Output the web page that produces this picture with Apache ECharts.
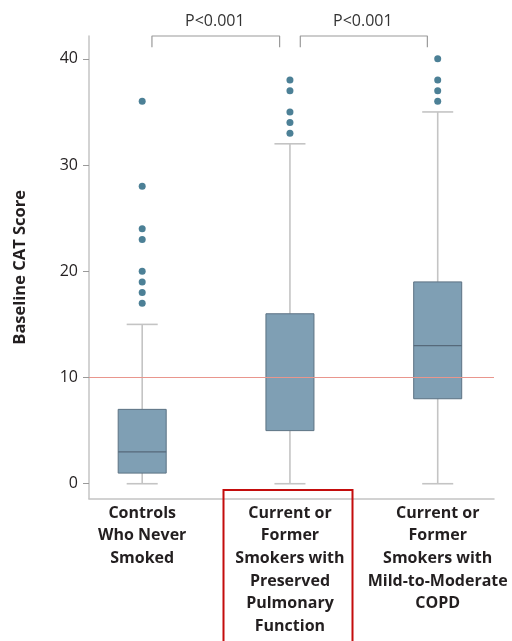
<!DOCTYPE html>
<html>
<head>
<meta charset="utf-8">
<script src="https://cdn.jsdelivr.net/npm/echarts@6/dist/echarts.min.js"></script>
<style>html,body{margin:0;padding:0;background:#fff}#c{width:512px;height:641px}</style>
</head>
<body>
<div id="c"></div>
<script>
const categories = [
  "Controls\nWho Never\nSmoked",
  "Current or\nFormer\nSmokers with\nPreserved\nPulmonary\nFunction",
  "Current or\nFormer\nSmokers with\nMild-to-Moderate\nCOPD"
];
const whiskerLow = [0, 0, 0];
const q1 = [1, 5, 8];
const median = [3, 10, 13];
const q3 = [7, 16, 19];
const whiskerHigh = [15, 32, 35];
const outliersControls = [17, 18, 19, 20, 23, 24, 28, 36];
const outliersPreserved = [33, 34, 35, 37, 38];
const outliersCOPD = [36, 37, 38, 40];
const yTicks = [0, 10, 20, 30, 40];
const pLabels = ["P<0.001", "P<0.001"];
const referenceValue = 10;

const outlierGroups = [outliersControls, outliersPreserved, outliersCOPD];
const boxData = categories.map((c, i) => [i, whiskerLow[i], q1[i], median[i], q3[i], whiskerHigh[i]]);
const outlierData = [];
outlierGroups.forEach((g, i) => g.forEach(v => outlierData.push([i, v])));

const FONT = "'Open Sans', sans-serif";
const TXT = '#231f20';

const chart = echarts.init(document.getElementById('c'));
chart.setOption({
  animation: false,
  grid: { left: 89, right: 18, top: 36, bottom: 142.3, containLabel: false, outerBoundsMode: 'none' },
  xAxis: {
    type: 'value', min: -0.36, max: 2.381,
    splitLine: { show: false },
    axisLine: { show: true, onZero: false, lineStyle: { color: '#c4c4c4', width: 1.5 } },
    axisTick: { show: false },
    axisLabel: {
      customValues: [0, 1, 2],
      formatter: v => categories[Math.round(v)],
      fontFamily: FONT, fontSize: 16, fontWeight: 'bold', color: TXT,
      lineHeight: 22.7, margin: 3, verticalAlign: 'top'
    }
  },
  yAxis: {
    type: 'value', min: -1.41, max: 42.15,
    name: 'Baseline CAT Score', nameLocation: 'middle', nameGap: 60,
    nameTextStyle: { fontFamily: FONT, fontSize: 16.5, fontWeight: 'bold', color: TXT },
    splitLine: { show: false },
    axisLine: { show: true, onZero: false, lineStyle: { color: '#c4c4c4', width: 1.5 } },
    axisTick: { show: true, customValues: yTicks, length: 6, lineStyle: { color: '#9a9a9a', width: 1 } },
    axisLabel: { customValues: yTicks, fontFamily: FONT, fontSize: 16, color: TXT, margin: 11 }
  },
  series: [
    {
      type: 'line', z: 1, symbol: 'none', silent: true,
      lineStyle: { color: '#9a9a9a', width: 1.2 },
      data: [[0.066, 41.1], [0.066, 42.15], [0.93, 42.15], [0.93, 41.1], null,
             [1.07, 41.1], [1.07, 42.15], [1.93, 42.15], [1.93, 41.1]],
      connectNulls: false, clip: false,
      markLine: {
        silent: true, symbol: 'none', label: { show: false },
        lineStyle: { color: '#e9968d', width: 1, type: 'solid' },
        emphasis: { disabled: true },
        data: [{ yAxis: referenceValue, lineStyle: { color: '#e9968d' } }]
      }
    },
    {
      type: 'custom', z: 2,
      data: boxData,
      renderItem: function (params, api) {
        const x = api.value(0);
        const pMin = api.coord([x, api.value(1)]);
        const pQ1 = api.coord([x, api.value(2)]);
        const pMed = api.coord([x, api.value(3)]);
        const pQ3 = api.coord([x, api.value(4)]);
        const pMax = api.coord([x, api.value(5)]);
        const unit = api.size([1, 0])[0];
        const bw = unit * 0.325, cw = unit * 0.21;
        const cx = pMin[0];
        const wStyle = { stroke: '#c4c4c4', lineWidth: 1.6 };
        return {
          type: 'group',
          children: [
            { type: 'line', shape: { x1: cx, y1: pMax[1], x2: cx, y2: pQ3[1] }, style: wStyle },
            { type: 'line', shape: { x1: cx, y1: pQ1[1], x2: cx, y2: pMin[1] }, style: wStyle },
            { type: 'line', shape: { x1: cx - cw / 2, y1: pMax[1], x2: cx + cw / 2, y2: pMax[1] }, style: wStyle },
            { type: 'line', shape: { x1: cx - cw / 2, y1: pMin[1], x2: cx + cw / 2, y2: pMin[1] }, style: wStyle },
            { type: 'rect', shape: { x: cx - bw / 2, y: pQ3[1], width: bw, height: pQ1[1] - pQ3[1] },
              style: { fill: '#7f9fb4', stroke: '#5c7283', lineWidth: 1 } },
            { type: 'line', shape: { x1: cx - bw / 2, y1: pMed[1], x2: cx + bw / 2, y2: pMed[1] },
              style: { stroke: '#56697a', lineWidth: 1.2 } }
          ]
        };
      }
    },
    {
      type: 'scatter', z: 3, symbolSize: 7, silent: true,
      itemStyle: { color: '#1f607c' },
      data: outlierData
    }
  ],
  graphic: [
    { type: 'text', left: 216 - 31, top: 13, style: { text: pLabels[0], font: "16px 'Open Sans', sans-serif", fill: '#333' } },
    { type: 'text', left: 364 - 31, top: 13, style: { text: pLabels[1], font: "16px 'Open Sans', sans-serif", fill: '#333' } },
    { type: 'rect', shape: { x: 223.5, y: 490, width: 129, height: 170 },
      style: { fill: 'none', stroke: '#c40d0d', lineWidth: 2 }, z: 10 }
  ]
});
</script>
</body>
</html>
